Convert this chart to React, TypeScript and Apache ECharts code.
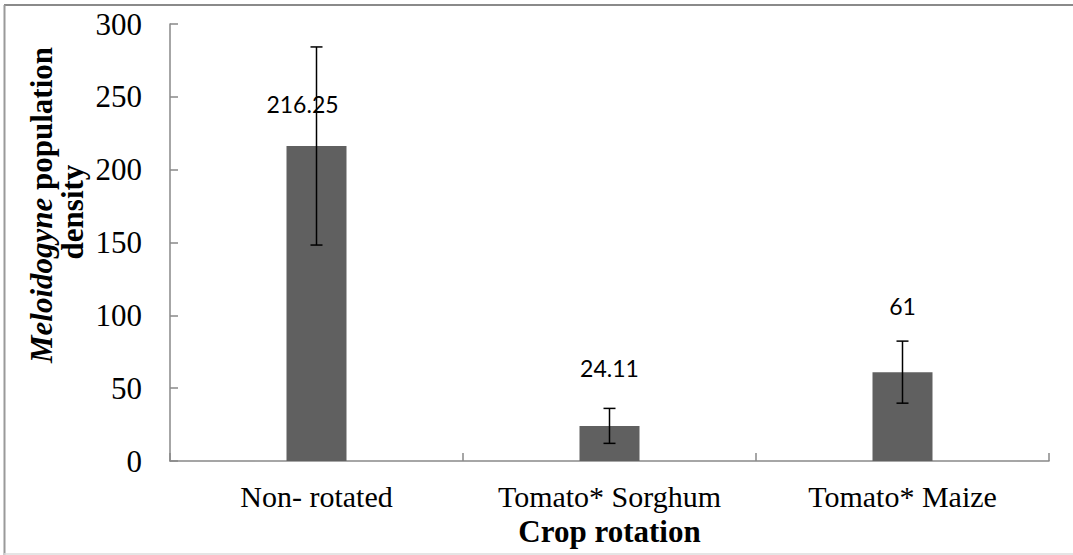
import React, { useEffect, useRef } from "react";
import * as echarts from "echarts";

const categories = ["Non- rotated", "Tomato* Sorghum", "Tomato* Maize"];
const means = [216.25, 24.11, 61];
const errors = [68, 12, 21.3];
const yTicks = { min: 0, max: 300, interval: 50 };
const labelOffsets: [number, number][] = [[-14, -25], [0, -41], [0, -50]];

export default function App() {
  const ref = useRef<HTMLDivElement>(null);
  useEffect(() => {
    if (!ref.current) return;
    const chart = echarts.init(ref.current, undefined, { renderer: "svg" });
    const serif = "Liberation Serif";
    const errData = means.map((m, i) => [i, m - errors[i], m + errors[i]]);
    chart.setOption({
      animation: false,
      backgroundColor: "#ffffff",
      grid: { left: 170, right: 24, top: 24, bottom: 94, containLabel: false, outerBoundsMode: "none" },
      xAxis: {
        type: "category",
        data: categories,
        name: "Crop rotation",
        nameLocation: "middle",
        nameGap: 55,
        nameTextStyle: { fontFamily: serif, fontSize: 31, fontWeight: "bold", color: "#000" },
        axisLine: { lineStyle: { color: "#888", width: 1.5 } },
        axisTick: { show: true, inside: true, length: 8, alignWithLabel: false, lineStyle: { color: "#888", width: 1.5 } },
        axisLabel: { fontFamily: serif, fontSize: 30, color: "#000", margin: 20, interval: 0, hideOverlap: false },
        splitLine: { show: false },
      },
      yAxis: {
        type: "value",
        min: yTicks.min,
        max: yTicks.max,
        interval: yTicks.interval,
        axisLine: { show: true, lineStyle: { color: "#888", width: 1.5 } },
        axisTick: { show: true, inside: true, length: 8, lineStyle: { color: "#888", width: 1.5 } },
        axisLabel: { fontFamily: serif, fontSize: 31, color: "#000", margin: 28 },
        splitLine: { show: false },
      },
      series: [
        {
          type: "bar",
          barWidth: 60,
          itemStyle: { color: "#606060" },
          data: means.map((v, i) => ({
            value: v,
            label: {
              show: true,
              position: "top",
              offset: labelOffsets[i],
              fontFamily: "Lato",
              fontSize: 23,
              color: "#000",
            },
          })),
          z: 2,
        },
        {
          type: "custom",
          z: 3,
          data: errData,
          renderItem: (params: any, api: any) => {
            const x = api.value(0);
            const lo = api.coord([x, api.value(1)]);
            const hi = api.coord([x, api.value(2)]);
            const cap = 6;
            const style = { stroke: "#000", lineWidth: 1.5 };
            return {
              type: "group",
              children: [
                { type: "line", shape: { x1: hi[0], y1: hi[1], x2: lo[0], y2: lo[1] }, style },
                { type: "line", shape: { x1: hi[0] - cap, y1: hi[1], x2: hi[0] + cap, y2: hi[1] }, style },
                { type: "line", shape: { x1: lo[0] - cap, y1: lo[1], x2: lo[0] + cap, y2: lo[1] }, style },
              ],
            };
          },
        },
      ],
      graphic: [
        { type: "line", shape: { x1: 4, y1: 5, x2: 1073, y2: 5 }, style: { stroke: "#8a8a8a", lineWidth: 2 } },
        { type: "line", shape: { x1: 4.5, y1: 5, x2: 4.5, y2: 555 }, style: { stroke: "#9a9a9a", lineWidth: 2 } },
        { type: "line", shape: { x1: 4, y1: 554, x2: 1073, y2: 554 }, style: { stroke: "#dcdcdc", lineWidth: 1.5 } },
        {
          type: "text",
          x: 41,
          y: 205,
          rotation: Math.PI / 2,
          style: {
            text: "{i|Meloidogyne}{b| population}",
            align: "center",
            verticalAlign: "middle",
            rich: {
              i: { fontFamily: serif, fontSize: 31, fontWeight: "bold", fontStyle: "italic", fill: "#000" },
              b: { fontFamily: serif, fontSize: 31, fontWeight: "bold", fill: "#000" },
            },
          },
        },
        {
          type: "text",
          x: 72,
          y: 212,
          rotation: Math.PI / 2,
          style: {
            text: "density",
            align: "center",
            verticalAlign: "middle",
            fontFamily: serif,
            fontSize: 31,
            fontWeight: "bold",
            fill: "#000",
          },
        },
      ],
    });
    return () => chart.dispose();
  }, []);
  return (
    <div
      ref={ref}
      style={{ position: "fixed", left: 0, top: 0, width: 1073, height: 555 }}
    />
  );
}
